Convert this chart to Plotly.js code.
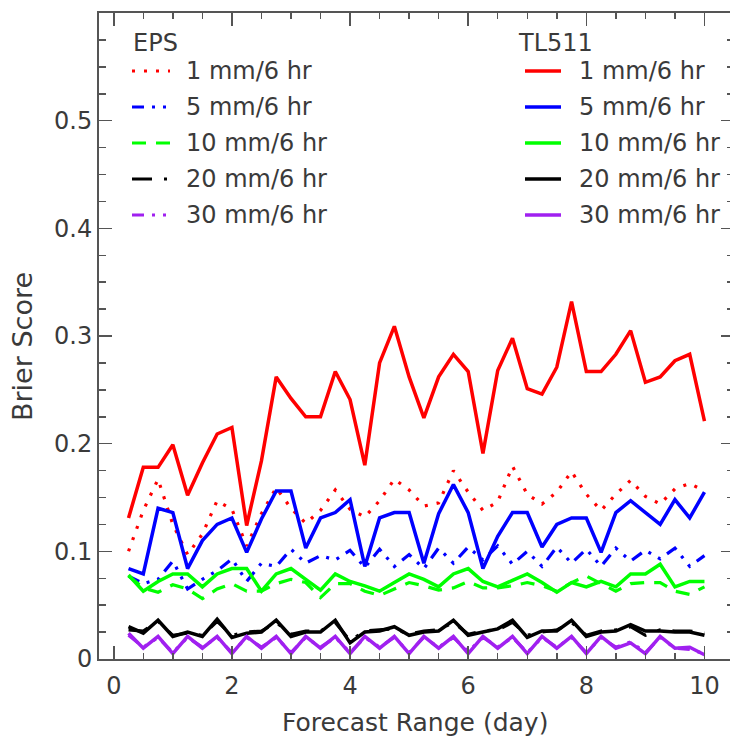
<!DOCTYPE html>
<html>
<head>
<meta charset="utf-8">
<script src="https://cdn.plot.ly/plotly-3.0.1.min.js"></script>
<style>html,body{margin:0;padding:0;overflow:hidden;background:#fff;}</style>
</head>
<body>
<div id="chart"></div>
<script>
const days = [0.25,0.5,0.75,1,1.25,1.5,1.75,2,2.25,2.5,2.75,3,3.25,3.5,3.75,4,4.25,4.5,4.75,5,
  5.25,5.5,5.75,6,6.25,6.5,6.75,7,7.25,7.5,7.75,8,8.25,8.5,8.75,9,9.25,9.5,9.75,10];

const tl_1mm = [0.131,0.178,0.178,0.199,0.152,0.182,0.209,0.215,0.124,0.184,
  0.262,0.242,0.225,0.225,0.267,0.241,0.180,0.275,0.309,0.262,
  0.224,0.262,0.283,0.267,0.191,0.268,0.298,0.251,0.246,0.271,
  0.332,0.267,0.267,0.283,0.305,0.257,0.262,0.277,0.283,0.221];
const tl_5mm = [0.084,0.079,0.140,0.136,0.084,0.110,0.125,0.131,0.099,0.130,
  0.156,0.156,0.103,0.131,0.136,0.148,0.086,0.131,0.136,0.136,
  0.089,0.135,0.162,0.136,0.084,0.114,0.136,0.136,0.104,0.125,
  0.131,0.131,0.099,0.136,0.147,0.136,0.125,0.148,0.131,0.155];
const tl_10mm = [0.078,0.063,0.072,0.079,0.079,0.067,0.079,0.084,0.084,0.063,
  0.079,0.084,0.074,0.064,0.079,0.072,0.068,0.063,0.071,0.079,
  0.074,0.067,0.079,0.084,0.072,0.067,0.073,0.079,0.071,0.062,
  0.071,0.067,0.072,0.067,0.079,0.079,0.088,0.067,0.072,0.072];
const tl_20mm = [0.030,0.024,0.036,0.021,0.025,0.021,0.037,0.020,0.024,0.025,
  0.036,0.021,0.025,0.025,0.036,0.015,0.025,0.026,0.030,0.022,
  0.025,0.026,0.036,0.022,0.025,0.028,0.036,0.020,0.026,0.026,
  0.036,0.021,0.025,0.026,0.032,0.026,0.026,0.025,0.025,0.022];
const tl_30mm = [0.024,0.010,0.021,0.005,0.021,0.010,0.021,0.005,0.021,0.010,
  0.021,0.005,0.021,0.010,0.021,0.005,0.021,0.010,0.021,0.005,
  0.021,0.010,0.021,0.005,0.021,0.010,0.021,0.005,0.021,0.010,
  0.021,0.005,0.021,0.010,0.015,0.005,0.021,0.010,0.011,0.004];

const eps_1mm = [0.100,0.138,0.167,0.125,0.097,0.116,0.147,0.139,0.105,0.135,
  0.159,0.140,0.126,0.138,0.157,0.139,0.132,0.147,0.167,0.157,
  0.142,0.145,0.175,0.155,0.138,0.146,0.179,0.153,0.144,0.155,
  0.174,0.153,0.138,0.153,0.166,0.151,0.144,0.158,0.163,0.156];
const eps_5mm = [0.077,0.070,0.074,0.091,0.065,0.074,0.082,0.093,0.072,0.089,
  0.086,0.102,0.089,0.096,0.092,0.101,0.085,0.102,0.086,0.097,
  0.084,0.103,0.089,0.104,0.092,0.105,0.088,0.100,0.086,0.104,
  0.089,0.102,0.086,0.103,0.091,0.101,0.093,0.103,0.086,0.096];
const eps_10mm = [0.077,0.066,0.062,0.069,0.065,0.056,0.065,0.070,0.063,0.063,
  0.070,0.074,0.071,0.057,0.070,0.070,0.063,0.059,0.065,0.071,
  0.068,0.064,0.066,0.072,0.066,0.066,0.068,0.071,0.068,0.063,
  0.071,0.077,0.070,0.063,0.070,0.071,0.071,0.063,0.060,0.067];
const eps_20mm = [0.027,0.026,0.035,0.022,0.024,0.022,0.035,0.022,0.025,0.026,
  0.034,0.023,0.026,0.026,0.034,0.017,0.026,0.027,0.028,0.023,
  0.026,0.027,0.034,0.023,0.026,0.027,0.034,0.022,0.025,0.027,
  0.034,0.022,0.026,0.027,0.030,0.022,0.027,0.026,0.026,0.024];
const eps_30mm = [0.022,0.011,0.020,0.006,0.020,0.011,0.020,0.006,0.020,0.011,
  0.020,0.006,0.020,0.011,0.020,0.006,0.020,0.011,0.020,0.006,
  0.020,0.011,0.020,0.007,0.020,0.011,0.020,0.006,0.020,0.011,
  0.020,0.006,0.020,0.011,0.016,0.006,0.020,0.010,0.009,0.005];

const seriesLabels = ['1 mm/6 hr','5 mm/6 hr','10 mm/6 hr','20 mm/6 hr','30 mm/6 hr'];
const xTickVals = [0, 2, 4, 6, 8, 10];
const xTickText = ['0','2','4','6','8','10'];
const yTickVals = [0, 0.1, 0.2, 0.3, 0.4, 0.5];
const yTickText = ['0','0.1','0.2','0.3','0.4','0.5'];
const xTitle = 'Forecast Range (day)';
const yTitle = 'Brier Score';

const colors = ['#ff0000','#0000ff','#00ff00','#000000','#a020f0'];
const epsDash = ['3px,9px','12px,8px,3px,8px,3px,8px','14px,10px','20px,12px,3px,12px','12px,8px,3px,8px,3px,8px'];
const epsData = [eps_1mm, eps_5mm, eps_10mm, eps_20mm, eps_30mm];
const tlData = [tl_1mm, tl_5mm, tl_10mm, tl_20mm, tl_30mm];

const FONT = 'DejaVu Sans';
const TXT = '#3a3a3a';
const AX = '#555555';
const W = 735, H = 738, ML = 99, MR = 1, MT = 13, MB = 79;
const PW = W - ML - MR, PH = H - MT - MB;
const px = x => (x - ML) / PW;
const py = y => (H - MB - y) / PH;

const traces = [];
for (let i = 0; i < 5; i++) {
  traces.push({x: days, y: epsData[i], type: 'scatter', mode: 'lines', name: 'EPS ' + seriesLabels[i],
    line: {color: colors[i], width: 3.2, dash: epsDash[i]}, showlegend: false});
}
for (let i = 0; i < 5; i++) {
  traces.push({x: days, y: tlData[i], type: 'scatter', mode: 'lines', name: 'TL511 ' + seriesLabels[i],
    line: {color: colors[i], width: 3.5}, showlegend: false});
}

const annotations = [];
const shapes = [];
const rowY = [71, 107, 143, 179, 215];
function addLegend(title, titleX, sampleX0, sampleX1, textX, dashes) {
  annotations.push({xref: 'paper', yref: 'paper', x: px(titleX), y: py(43), text: title,
    showarrow: false, xanchor: 'left', yanchor: 'middle', font: {family: FONT, size: 24, color: TXT}});
  for (let i = 0; i < 5; i++) {
    shapes.push({type: 'line', xref: 'paper', yref: 'paper', x0: px(sampleX0), x1: px(sampleX1),
      y0: py(rowY[i]), y1: py(rowY[i]), line: {color: colors[i], width: dashes ? 3.2 : 3.5, dash: dashes ? dashes[i] : 'solid'}});
    annotations.push({xref: 'paper', yref: 'paper', x: px(textX), y: py(rowY[i]), text: seriesLabels[i],
      showarrow: false, xanchor: 'left', yanchor: 'middle', font: {family: FONT, size: 24, color: TXT}});
  }
}
addLegend('EPS', 131, 132, 170, 184, epsDash);
addLegend('TL511', 516, 525, 561, 577, null);

// axis titles placed as annotations for exact positioning
annotations.push({xref: 'paper', yref: 'paper', x: px(415), y: py(722), text: xTitle, showarrow: false,
  xanchor: 'center', yanchor: 'middle', font: {family: FONT, size: 25, color: TXT}});
annotations.push({xref: 'paper', yref: 'paper', x: px(22), y: py(347), text: yTitle, showarrow: false,
  textangle: -90, xanchor: 'center', yanchor: 'middle', font: {family: FONT, size: 27, color: TXT}});

const axisCommon = {
  showgrid: false, zeroline: false, showline: true, linecolor: AX, linewidth: 2,
  mirror: 'ticks', ticks: 'inside', tickcolor: AX, tickwidth: 1.5,
  tickfont: {family: FONT, size: 24, color: TXT}
};

const layout = {
  width: W, height: H,
  margin: {l: ML, r: MR, t: MT, b: MB},
  paper_bgcolor: '#ffffff', plot_bgcolor: '#ffffff',
  showlegend: false,
  xaxis: Object.assign({}, axisCommon, {
    range: [-0.25, 10.5], tickvals: xTickVals, ticktext: xTickText, ticklen: 13, ticklabelstandoff: 4,
    minor: {dtick: 0.5, tick0: 0, ticks: 'inside', ticklen: 6, tickcolor: AX, tickwidth: 1.5}
  }),
  yaxis: Object.assign({}, axisCommon, {
    range: [0, 0.6], tickvals: yTickVals, ticktext: yTickText, ticklen: 13,
    minor: {dtick: 0.025, tick0: 0, ticks: 'inside', ticklen: 7, tickcolor: AX, tickwidth: 1.5}
  }),
  annotations: annotations,
  shapes: shapes
};

Plotly.newPlot('chart', traces, layout, {displayModeBar: false, staticPlot: true});
</script>
</body>
</html>
